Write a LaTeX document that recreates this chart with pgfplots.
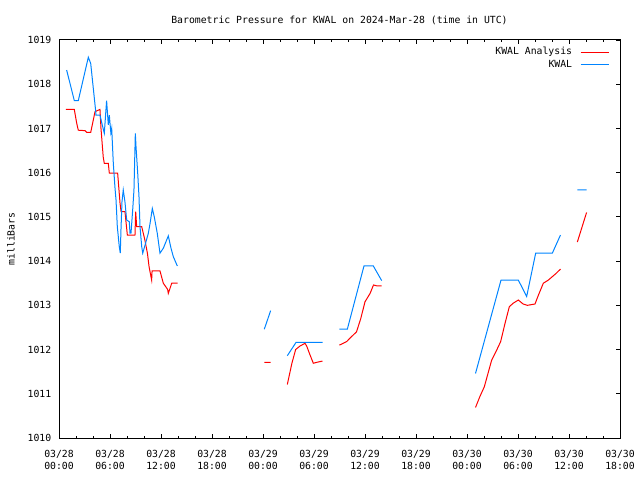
\documentclass[border=0pt]{standalone}
\usepackage{fontspec}
\setmainfont{DejaVu Sans Mono}
\usepackage{pgfplots}
\pgfplotsset{compat=1.18}
\definecolor{kred}{RGB}{255,0,0}
\definecolor{kblue}{RGB}{0,132,255}
\begin{document}
\begin{tikzpicture}[font=\fontsize{9.8bp}{12bp}\selectfont]
\useasboundingbox (0,0) rectangle (640bp,480bp);
\begin{axis}[
  at={(59bp,42bp)}, anchor=south west,
  scale only axis, width=561bp, height=398bp,
  xmin=0, xmax=66, ymin=1010, ymax=1019,
  xtick={0,6,...,66}, minor x tick num=2,
  xticklabels={03/28\\00:00,03/28\\06:00,03/28\\12:00,03/28\\18:00,03/29\\00:00,03/29\\06:00,03/29\\12:00,03/29\\18:00,03/30\\00:00,03/30\\06:00,03/30\\12:00,03/30\\18:00},
  xticklabel style={align=center, inner sep=0pt, yshift=-12bp},
  ytick={1010,1011,...,1019},
  ytick pos=right, yticklabel pos=left,
  yticklabel style={inner sep=0pt, xshift=-7.5bp},
  /pgf/number format/assume math mode=true,
  /pgf/number format/1000 sep={},
  tick align=inside,
  major tick length=4bp, minor tick length=2bp,
  axis line style={line width=1bp},
  tick style={line width=0.8bp, black},
  title={Barometric Pressure for KWAL on 2024-Mar-28 (time in UTC)},
  title style={at={(0.5,1)}, anchor=base, inner sep=0pt, yshift=11bp},
  ylabel={milliBars},
  every axis y label/.style={at={(axis description cs:0,0.5)}, xshift=-48bp, rotate=90, anchor=center},
  unbounded coords=jump,
  legend plot pos=right,
  legend cell align=right,
  legend image code/.code={\draw[#1] (0bp,0bp) -- (28bp,0bp);},
  legend style={draw=none, fill=none, at={(1,1)}, anchor=north east,
    xshift=-10.7bp, yshift=-7bp, inner sep=0pt, row sep=2.5bp, column sep=8bp,
    nodes={inner sep=0pt, text height=7.5bp, text depth=2.5bp}},
]
\addplot[kred, line width=1bp] coordinates {
(0.82,1017.43)(1.8,1017.43)(2.08,1017.12)(2.27,1016.96)(3.06,1016.95)(3.26,1016.91)(3.73,1016.91)(4.24,1017.38)(4.82,1017.43)(4.94,1017.0)(5.2,1016.36)(5.33,1016.21)(5.8,1016.21)(5.92,1015.99)(6.9,1015.99)(7.18,1015.31)(7.3,1015.12)(7.76,1015.12)(8.04,1014.59)(8.94,1014.59)(9.02,1015.12)(9.14,1014.78)(9.73,1014.78)(10.1,1014.48)(10.4,1014.18)(10.6,1013.87)(10.9,1013.57)(10.95,1013.78)(11.88,1013.78)(12.27,1013.5)(12.78,1013.36)(12.86,1013.27)(13.26,1013.5)(13.96,1013.5)
(19,nan)
(24.15,1011.71)(24.9,1011.71)
(26,nan)
(26.86,1011.21)(27.4,1011.69)(27.84,1012.0)(28.35,1012.08)(28.94,1012.14)(29.14,1012.08)(29.53,1011.88)(29.92,1011.69)(30.3,1011.71)(31.0,1011.74)
(32,nan)
(32.98,1012.10)(33.84,1012.18)(34.35,1012.28)(35.0,1012.40)(35.5,1012.7)(36.0,1013.08)(36.6,1013.27)(37.0,1013.46)(37.4,1013.44)(37.96,1013.44)
(43,nan)
(49.0,1010.69)(49.5,1010.93)(50.04,1011.16)(50.9,1011.76)(51.5,1011.99)(51.96,1012.18)(52.47,1012.59)(52.98,1012.97)(53.45,1013.05)(54.04,1013.12)(54.6,1013.03)(55.1,1013.0)(56.0,1013.03)(56.4,1013.23)(56.98,1013.5)(57.56,1013.57)(58.47,1013.72)(59.0,1013.82)
(60,nan)
(60.98,1014.43)(62.07,1015.1)
};
\addlegendentry{KWAL Analysis}
\addplot[kblue, line width=1bp] coordinates {
(0.9,1018.32)(1.8,1017.63)(2.27,1017.63)(3.45,1018.61)(3.73,1018.47)(4.3,1017.42)(4.35,1017.30)(4.82,1017.30)(5.14,1017.04)(5.33,1016.89)(5.6,1017.63)(5.8,1017.08)(5.92,1017.3)(6.1,1016.9)(6.2,1017.0)(6.39,1016.21)(6.59,1015.65)(6.71,1015.38)(6.86,1014.78)(7.09,1014.33)(7.21,1014.18)(7.29,1014.70)(7.41,1015.34)(7.56,1015.61)(7.76,1015.34)(7.96,1014.93)(8.27,1014.89)(8.35,1014.63)(8.47,1014.63)(8.67,1015.16)(8.82,1015.61)(8.98,1016.89)(9.06,1016.59)(9.26,1015.99)(9.41,1015.46)(9.53,1014.78)(9.73,1014.33)(9.85,1014.18)(10.12,1014.36)(10.51,1014.63)(10.71,1014.85)(10.98,1015.19)(11.21,1015.0)(11.56,1014.63)(11.88,1014.18)(12.27,1014.29)(12.86,1014.57)(13.18,1014.29)(13.45,1014.10)(13.92,1013.89)
(19,nan)
(24.15,1012.46)(24.9,1012.88)
(26,nan)
(26.86,1011.86)(27.88,1012.16)(31.0,1012.16)
(32,nan)
(32.98,1012.46)(33.92,1012.46)(35.88,1013.89)(36.98,1013.89)(37.96,1013.56)
(43,nan)
(49.0,1011.46)(52.0,1013.57)(54.04,1013.57)(55.02,1013.2)(56.08,1014.18)(58.04,1014.18)(59.0,1014.59)
(60,nan)
(60.98,1015.61)(62.07,1015.61)
};
\addlegendentry{KWAL}
\end{axis}
\end{tikzpicture}
\end{document}
